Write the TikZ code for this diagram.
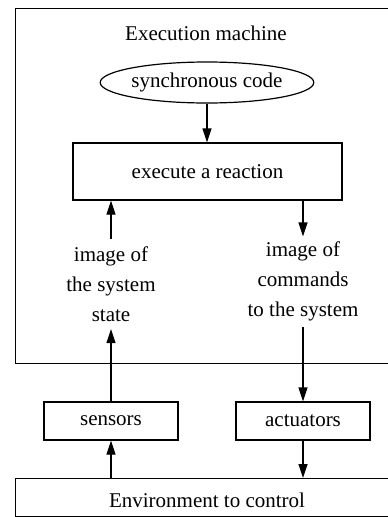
\documentclass[tikz,border=0pt]{standalone}
\usepackage{fontspec}
\setmainfont{Liberation Serif}
\usetikzlibrary{shapes.geometric,arrows.meta}
\begin{document}
\begin{tikzpicture}[x=1pt,y=-1pt,
  every node/.style={font=\fontsize{21}{30}\selectfont, inner sep=0pt, line width=1.2pt},
  box/.style={draw, rectangle},
  lbl/.style={align=center, minimum height=89},
  arr/.style={draw, line width=1.2pt, -{Triangle[length=14pt,width=9pt]}}]
\useasboundingbox (0,0) rectangle (388,517);
\clip (0,0) rectangle (388,517);
\node[box, anchor=north west, minimum width=384, minimum height=355] (machine) at (15,8) {};
\node (title) at (206,33) {Execution machine};
\node[draw, ellipse, minimum width=173, minimum height=41] (code) at (207,82.5) {synchronous code};
\node[box, minimum width=269, minimum height=57] (reaction) at (207.5,171.5) {execute a reaction};
\node[lbl] (state) at (111,284) {image of\\the system\\state};
\node[lbl] (cmd) at (303,281.5) {image of\\commands\\to the system};
\node[box, minimum width=134, minimum height=38] (sensors) at (111,421) {sensors};
\node[box, minimum width=134, minimum height=38] (actuators) at (303,421) {actuators};
\node[box, anchor=north west, minimum width=384, minimum height=38] (env) at (15,478) {};
\node (envtext) at (207,500) {Environment to control};
\path[arr] (code.south) -- (code.south |- reaction.north);
\path[arr] (state.north) -- (state.north |- reaction.south);
\path[arr] (cmd.north |- reaction.south) -- (cmd.north);
\path[arr] (sensors.north) -- (state.south);
\path[arr] (cmd.south) -- (actuators.north);
\path[arr] (sensors.south |- env.north) -- (sensors.south);
\path[arr] (actuators.south) -- (actuators.south |- env.north);
\end{tikzpicture}
\end{document}
